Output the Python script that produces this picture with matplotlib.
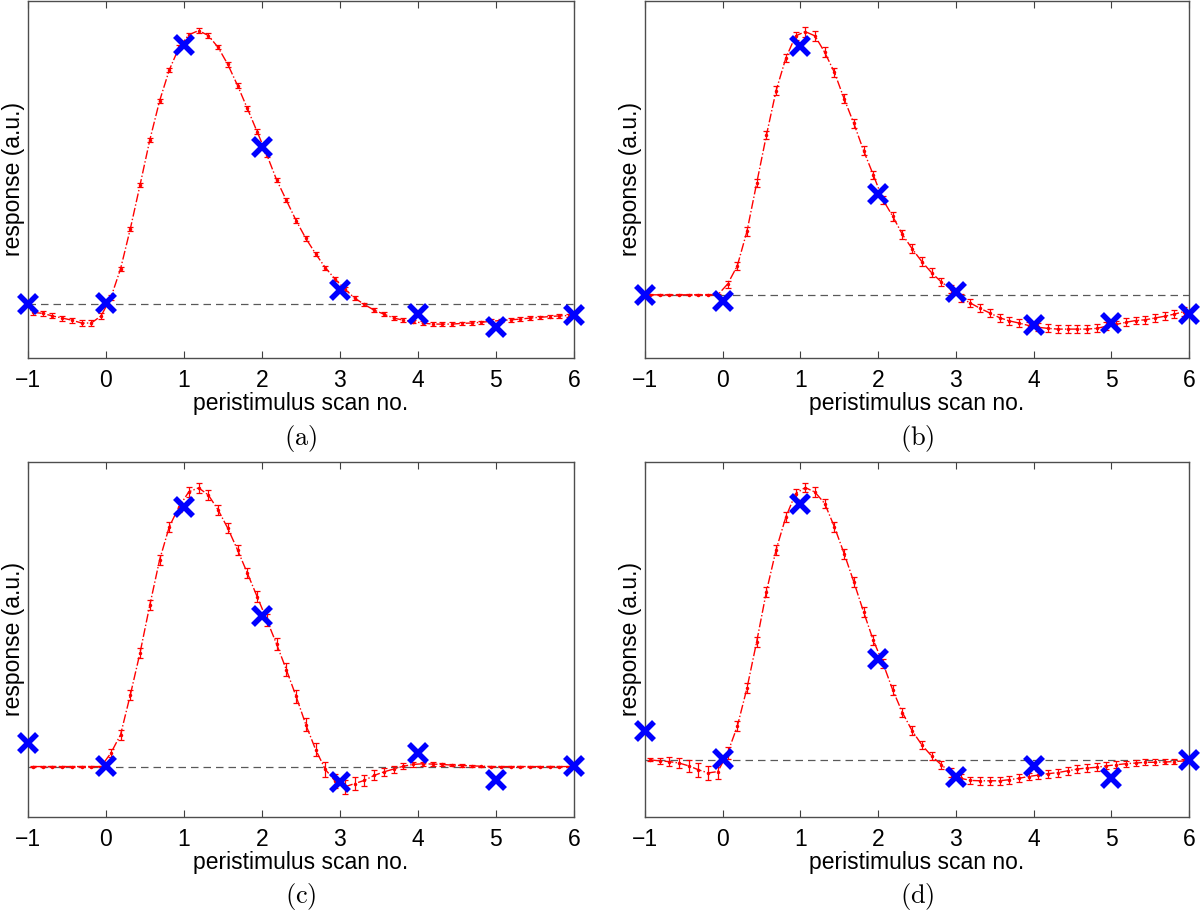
import numpy as np
import matplotlib
matplotlib.use('Agg')
import matplotlib.pyplot as plt


plt.rcParams['font.family'] = ['Liberation Sans', 'DejaVu Sans']
plt.rcParams['mathtext.fontset'] = 'cm'

# fine-grained time axis: 8 samples per scan, centred in each bin
fine_x = np.arange(56) / 8 - 1 + 1 / 16
scans = [-1, 0, 1, 2, 3, 4, 5, 6]

curve_a = [-0.022, -0.025, -0.032, -0.038, -0.044, -0.052, -0.052, -0.032,
           0.019, 0.100, 0.212, 0.335, 0.461, 0.570, 0.657, 0.720,
           0.755, 0.767, 0.753, 0.720, 0.672, 0.613, 0.549, 0.484,
           0.419, 0.349, 0.292, 0.235, 0.185, 0.142, 0.103, 0.071,
           0.043, 0.018, 0.000, -0.016, -0.027, -0.038, -0.044, -0.048,
           -0.052, -0.055, -0.055, -0.055, -0.053, -0.052, -0.050, -0.047,
           -0.045, -0.043, -0.041, -0.038, -0.036, -0.034, -0.032, -0.031]
curve_b = [0.0, 0.0, 0.0, 0.0, 0.0, 0.0, 0.0, 0.0,
           0.030, 0.081, 0.178, 0.313, 0.447, 0.572, 0.663, 0.725,
           0.737, 0.725, 0.679, 0.623, 0.549, 0.480, 0.404, 0.336,
           0.266, 0.220, 0.169, 0.129, 0.093, 0.062, 0.036, 0.016,
           -0.009, -0.023, -0.038, -0.051, -0.064, -0.073, -0.079, -0.086,
           -0.091, -0.094, -0.096, -0.096, -0.096, -0.096, -0.094, -0.088,
           -0.083, -0.077, -0.072, -0.070, -0.065, -0.060, -0.054, -0.047]
curve_c = [0.0, 0.0, 0.0, 0.0, 0.0, 0.0, 0.0, 0.0,
           0.038, 0.090, 0.202, 0.321, 0.455, 0.582, 0.676, 0.732,
           0.774, 0.785, 0.765, 0.723, 0.671, 0.610, 0.545, 0.479,
           0.413, 0.345, 0.273, 0.198, 0.118, 0.048, -0.008, -0.041,
           -0.057, -0.048, -0.039, -0.025, -0.015, -0.007, 0.001, 0.006,
           0.008, 0.007, 0.006, 0.004, 0.003, 0.002, 0.001, 0.0,
           0.0, 0.0, 0.0, 0.0, 0.0, 0.0, 0.0, 0.0]
curve_d = [0.0, -0.003, -0.005, -0.009, -0.017, -0.028, -0.037, -0.033,
           0.019, 0.094, 0.202, 0.333, 0.474, 0.592, 0.684, 0.750,
           0.767, 0.754, 0.722, 0.656, 0.581, 0.501, 0.417, 0.337,
           0.272, 0.197, 0.133, 0.082, 0.042, 0.011, -0.014, -0.036,
           -0.052, -0.058, -0.059, -0.059, -0.059, -0.056, -0.052, -0.047,
           -0.043, -0.039, -0.036, -0.031, -0.026, -0.023, -0.021, -0.017,
           -0.014, -0.011, -0.009, -0.007, -0.007, -0.006, -0.005, -0.003]

err_a = [0.007, 0.007, 0.007, 0.007, 0.007, 0.008, 0.008, 0.008,
         0.007, 0.006, 0.006, 0.006, 0.006, 0.006, 0.006, 0.006,
         0.006, 0.006, 0.006, 0.006, 0.006, 0.006, 0.006, 0.006,
         0.006, 0.006, 0.006, 0.006, 0.006, 0.006, 0.006, 0.006,
         0.005, 0.005, 0.005, 0.005, 0.005, 0.005, 0.005, 0.005,
         0.005, 0.005, 0.005, 0.005, 0.005, 0.005, 0.005, 0.005,
         0.005, 0.005, 0.005, 0.005, 0.005, 0.005, 0.005, 0.005]
err_b = [0.001, 0.001, 0.001, 0.001, 0.001, 0.001, 0.001, 0.003,
         0.010, 0.012, 0.012, 0.012, 0.012, 0.012, 0.012, 0.012,
         0.014, 0.014, 0.014, 0.012, 0.012, 0.012, 0.012, 0.012,
         0.012, 0.012, 0.012, 0.012, 0.012, 0.012, 0.012, 0.012,
         0.011, 0.011, 0.011, 0.011, 0.011, 0.011, 0.011, 0.011,
         0.011, 0.011, 0.011, 0.011, 0.011, 0.011, 0.011, 0.011,
         0.011, 0.011, 0.011, 0.011, 0.011, 0.011, 0.011, 0.012]
err_c = [0.001, 0.001, 0.001, 0.001, 0.001, 0.001, 0.001, 0.001,
         0.012, 0.014, 0.014, 0.014, 0.014, 0.014, 0.014, 0.014,
         0.014, 0.014, 0.014, 0.014, 0.014, 0.014, 0.014, 0.015,
         0.016, 0.017, 0.018, 0.018, 0.018, 0.019, 0.020, 0.020,
         0.020, 0.018, 0.016, 0.014, 0.012, 0.010, 0.008, 0.007,
         0.006, 0.005, 0.004, 0.003, 0.003, 0.002, 0.002, 0.001,
         0.001, 0.001, 0.001, 0.001, 0.001, 0.001, 0.001, 0.001]
err_d = [0.004, 0.008, 0.012, 0.015, 0.017, 0.019, 0.021, 0.020,
         0.016, 0.014, 0.014, 0.014, 0.014, 0.014, 0.014, 0.014,
         0.014, 0.014, 0.014, 0.014, 0.014, 0.014, 0.014, 0.014,
         0.013, 0.013, 0.013, 0.013, 0.012, 0.012, 0.012, 0.012,
         0.011, 0.011, 0.011, 0.011, 0.011, 0.011, 0.011, 0.011,
         0.011, 0.011, 0.011, 0.011, 0.011, 0.011, 0.011, 0.010,
         0.010, 0.009, 0.009, 0.008, 0.008, 0.007, 0.006, 0.005]

scan_a = [0.0, 0.003, 0.727, 0.441, 0.041, -0.028, -0.062, -0.030]
scan_b = [0.0, -0.017, 0.696, 0.282, 0.008, -0.084, -0.079, -0.054]
scan_c = [0.065, 0.001, 0.732, 0.425, -0.044, 0.038, -0.039, 0.001]
scan_d = [0.082, 0.003, 0.720, 0.283, -0.049, -0.017, -0.052, 0.0]

ylims = [(-0.150, 0.850), (-0.177, 0.823), (-0.142, 0.858), (-0.161, 0.839)]
captions = ['(a)', '(b)', '(c)', '(d)']

panels = [(curve_a, scan_a, err_a), (curve_b, scan_b, err_b),
          (curve_c, scan_c, err_c), (curve_d, scan_d, err_d)]

fig = plt.figure(figsize=(12, 9.11), dpi=100)
rects = [[0.0233, 0.607, 0.455, 0.392], [0.5375, 0.607, 0.4533, 0.392],
         [0.0233, 0.1032, 0.455, 0.3897], [0.5375, 0.1032, 0.4533, 0.3897]]

for rect, (curve, scan, err), ylim, cap in zip(rects, panels, ylims, captions):
    ax = fig.add_axes(rect)
    ax.axhline(0, color='0.35', ls=(0, (6, 4)), lw=0.9, zorder=1)
    ax.errorbar(fine_x, curve, yerr=err, color='red', ls='-.', lw=1.0,
                marker='.', ms=3, elinewidth=0.9, capsize=2.2, capthick=0.9,
                zorder=2)
    ax.plot(scans, scan, ls='none', marker='x', ms=13, mew=4,
            color='#0000ff', zorder=3, clip_on=False)
    ax.set_xlim(-1, 6)
    ax.set_ylim(*ylim)
    ax.set_xticks(scans)
    ax.set_xticklabels(['\u22121', '0', '1', '2', '3', '4', '5', '6'])
    ax.set_yticks([])
    ax.tick_params(axis='x', direction='in', top=True, length=5,
                   labelsize=16.5, pad=8, color='0.25')
    for sp in ax.spines.values():
        sp.set_color('0.3')
        sp.set_linewidth(1.0)
    ax.set_xlabel('peristimulus scan no.', fontsize=16.5, labelpad=0)
    ax.set_ylabel('response (a.u.)', fontsize=16.5, labelpad=2)
    ax.text(0.5, -0.225, r'$\mathrm{' + cap + '}$', transform=ax.transAxes,
            ha='center', va='center', fontsize=19)

fig.savefig('out.png', dpi=100)
